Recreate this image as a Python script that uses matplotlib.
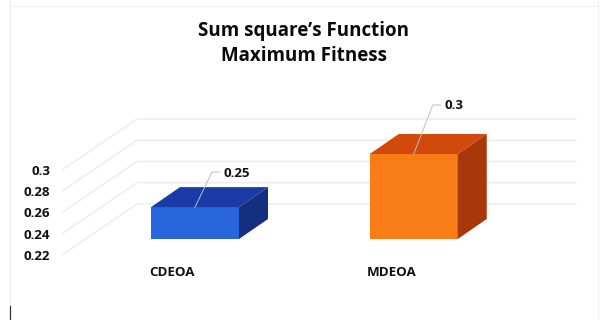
import matplotlib
matplotlib.use('Agg')
import matplotlib.pyplot as plt
from matplotlib.patches import Polygon

plt.rcParams['font.family'] = ['Open Sans', 'DejaVu Sans']

categories = ['CDEOA', 'MDEOA']
values = [0.25, 0.3]
value_labels = ['0.25', '0.3']
y_ticks = [0.22, 0.24, 0.26, 0.28, 0.3]
y_tick_labels = ['0.22', '0.24', '0.26', '0.28', '0.3']

front_colors = ['#2866DE', '#F97D16']
top_colors = ['#1A3BA6', '#D2490C']
side_colors = ['#152F80', '#A8380A']

W, H = 600, 320
# one category step and one value unit, in pixels
PX_X = 218.75
PX_Y = 1062.5
base = 0.22


def dx(px):
    return px / PX_X


def dy(px):
    return px / PX_Y


fig = plt.figure(figsize=(W / 100, H / 100), dpi=100, facecolor='white')
ax = fig.add_axes([0, 0, 1, 1])
ax.set_xlim(-195 / PX_X, (W - 195) / PX_X)
ax.set_ylim(base - dy(H - 255), base + dy(255))
ax.axis('off')

# wall and floor depth of the fake 3d box
depth_x, depth_y = dx(75), dy(51)
left = dx(62 - 195)
right = dx(576 - 195)
grid_color = '#EAEAEA'
for t, lab in zip(y_ticks, y_tick_labels):
    ax.plot([left, left + depth_x, right], [t, t + depth_y, t + depth_y],
            color=grid_color, lw=0.9, zorder=1, solid_joinstyle='miter')
    ax.text(left - dx(12), t - dy(1.5), lab, ha='right', va='center', fontsize=9.6,
            fontweight='bold', color='#111111')

# bars stand part way into the floor
bar_w = dx(88)
off_x, off_y = dx(0), dy(16)
box_x, box_y = dx(29), dy(20)
for i, (cat, v) in enumerate(zip(categories, values)):
    x0 = i - bar_w / 2 + off_x
    x1 = i + bar_w / 2 + off_x
    y0 = base + off_y
    y1 = v + off_y
    ax.bar(i + off_x, v - base, width=bar_w, bottom=y0, color=front_colors[i], zorder=3, linewidth=0)
    ax.add_patch(Polygon([(x0, y1), (x1, y1), (x1 + box_x, y1 + box_y), (x0 + box_x, y1 + box_y)],
                         closed=True, facecolor=top_colors[i], edgecolor='none', zorder=3))
    ax.add_patch(Polygon([(x1, y0), (x1 + box_x, y0 + box_y), (x1 + box_x, y1 + box_y), (x1, y1)],
                         closed=True, facecolor=side_colors[i], edgecolor='none', zorder=3))
    ax.text(x0 + dx(21.5), base - dy(17.5), cat, ha='center', va='center', fontsize=9.6,
            fontweight='bold', color='#111111')

# leader lines up to the value labels
leader_rise = [35, 49]
leader_run = [17, 19]
for i, v in enumerate(values):
    xs = i + off_x
    ys = v + off_y
    xe = xs + dx(leader_run[i])
    ye = ys + dy(leader_rise[i])
    ax.plot([xs, xe, xe + dx(8)], [ys, ye, ye], color='#BFBFBF', lw=0.7, zorder=4)
    ax.text(xe + dx(12), ye - dy(1), value_labels[i], ha='left', va='center', fontsize=9.6,
            fontweight='bold', color='#111111', zorder=5)

ax.text(dx(304 - 195), base + dy(255 - 31), 'Sum square’s Function', ha='center', va='center',
        fontsize=13.5, fontweight='bold', color='#0A0A0A')
ax.text(dx(304 - 195), base + dy(255 - 56.5), 'Maximum Fitness', ha='center', va='center',
        fontsize=13.5, fontweight='bold', color='#0A0A0A')

# page frame and text cursor around the chart
frame_x0, frame_x1, frame_top = dx(10 - 195), dx(598 - 195), base + dy(255 - 6)
ax.plot([frame_x0, frame_x1], [frame_top, frame_top], color='#F0F0F0', lw=0.8)
ax.plot([frame_x0, frame_x0], [base - dy(50), base + dy(255)], color='#EFEFEF', lw=0.8)
ax.plot([frame_x1, frame_x1], [base - dy(65), base + dy(255)], color='#EFEFEF', lw=0.8)
ax.plot([frame_x0, frame_x0], [base - dy(51), base - dy(65)], color='#333333', lw=0.9)

fig.savefig('out.png', dpi=100, facecolor='white')
